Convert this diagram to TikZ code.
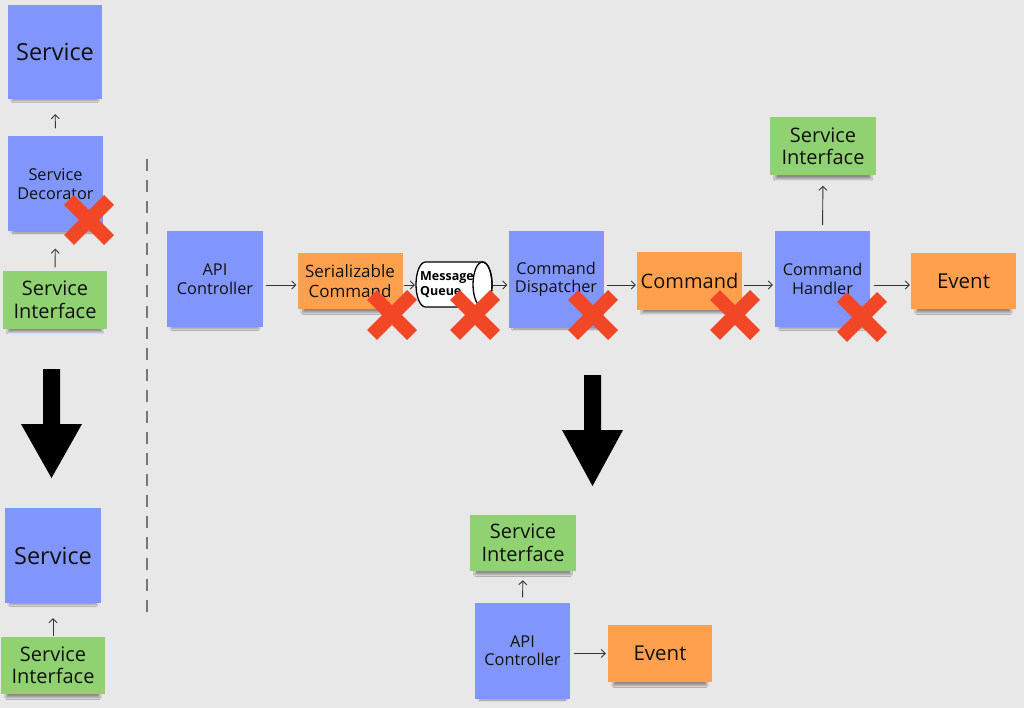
\documentclass[tikz,border=0pt]{standalone}
\usepackage{fontspec}
\setmainfont{Open Sans}
\usetikzlibrary{arrows.meta,shadows.blur}
\definecolor{bg}{HTML}{E8E8E8}
\definecolor{stblue}{HTML}{8096FC}
\definecolor{storange}{HTML}{FFA04E}
\definecolor{stgreen}{HTML}{90D272}
\definecolor{xred}{HTML}{F24726}
\definecolor{ink}{HTML}{111111}
\definecolor{dashgray}{HTML}{777777}
\tikzset{
  sticky/.style={inner sep=0pt, align=center, text=ink,
    blur shadow={shadow xshift=0pt, shadow yshift=-7pt, shadow scale=0.9, shadow blur steps=10, shadow opacity=40}},
  bluebox/.style={sticky, fill=stblue, minimum width=95pt, minimum height=95pt},
  orangebox/.style={sticky, fill=storange, minimum width=105pt, minimum height=56pt},
  greenbox/.style={sticky, fill=stgreen, minimum width=105pt, minimum height=57pt},
  fbig/.style={font=\fontsize{23.5}{27}\selectfont},
  fmid/.style={font=\fontsize{20}{22.5}\selectfont},
  fsmall/.style={font=\fontsize{16.3}{18.5}\selectfont},
  arr/.style={draw=ink!85, line width=0.9pt, -{Straight Barb[length=4pt,width=8pt]}},
  xmark/.pic={\draw[xred, line width=14pt] (-20,-20) -- (20,20) (-20,20) -- (20,-20);},
  bigarrow/.style={fill=black, draw=none},
}
\begin{document}
\begin{tikzpicture}[x=1pt,y=-1pt]
\fill[bg] (0,0) rectangle (1024,708);
\useasboundingbox (0,0) rectangle (1024,708);

% left column
\node[bluebox, fbig, minimum width=94pt, minimum height=94pt] (svc1) at (55,52) {Service};
\node[bluebox, fsmall] (dec) at (55.5,184) {Service\\Decorator};
\node[greenbox, fmid, minimum width=104pt] (si1) at (55,300) {Service\\Interface};
\node[bluebox, fbig, minimum width=96pt] (svc2) at (53,555.5) {Service};
\node[greenbox, fmid, minimum width=104pt] (si2) at (53,665.5) {Service\\Interface};

\draw[arr, shorten <=8pt, shorten >=15pt] (dec.north) -- (svc1.south);
\draw[arr, shorten <=4pt, shorten >=17pt] (si1.north) -- (dec.south);
\draw[arr, shorten <=1pt, shorten >=15pt] (si2.north) -- (svc2.south);

\coordinate (dtop) at (147,159);
\coordinate (dbot) at (147,616);
\draw[dashgray, line width=2.5pt, dash pattern=on 12pt off 9pt] (dtop) -- (dbot);

\fill[bigarrow] (43,369) -- (60,369) -- (60,424) -- (82,424) -- (51.5,478) -- (21,424) -- (43,424) -- cycle;

% main row
\coordinate (row) at (0,285);
\node[bluebox, fsmall, minimum width=96pt, minimum height=96pt] (api1) at (215,279) {API\\Controller};
\node[orangebox, font=\fontsize{17}{19.5}\selectfont] (ser) at (350,281) {Serializable\\Command};
% message queue cylinder
\node[minimum width=76pt, minimum height=45pt, inner sep=0pt] (mq) at (454,284.5) {};
\draw[black, line width=1.3pt, fill=white]
  (425.5,262) -- (482.5,262) arc[start angle=-90, end angle=90, x radius=9.5, y radius=22.5]
  -- (425.5,307) arc[start angle=90, end angle=270, x radius=9.5, y radius=22.5] -- cycle;
\draw[black, line width=1.3pt] (482.5,284.5) ellipse[x radius=9.5, y radius=22.5];
\node[font=\bfseries\fontsize{12.5}{14.5}\selectfont, align=left, text=black, anchor=west, inner sep=0pt] (mqt) at (420,284.5) {Message\\Queue};
\node[bluebox, fsmall, minimum height=96pt] (disp) at (556,279.5) {Command\\Dispatcher};
\node[orangebox, fmid, minimum height=57pt] (cmd) at (689.5,281) {Command};
\node[bluebox, fsmall, minimum height=96pt] (hand) at (822.5,279) {Command\\Handler};
\node[greenbox, fmid, minimum width=106pt, minimum height=58pt] (si3) at (823,146.5) {Service\\Interface};
\node[orangebox, font=\fontsize{20.5}{23}\selectfont] (evt1) at (963.5,281) {Event};

\draw[arr, shorten <=3pt, shorten >=1pt] (api1.east |- row) -- (ser.west |- row);
\draw[arr, shorten <=1pt, shorten >=1pt] (ser.east |- row) -- (mq.west |- row);
\draw[arr, shorten <=1pt, shorten >=1pt] (mq.east |- row) -- (disp.west |- row);
\draw[arr, shorten <=3pt, shorten >=1pt] (disp.east |- row) -- (cmd.west |- row);
\draw[arr, shorten <=2pt, shorten >=2pt] (cmd.east |- row) -- (hand.west |- row);
\draw[arr, shorten <=4pt, shorten >=1pt] (hand.east |- row) -- (evt1.west |- row);
\draw[arr, shorten <=6pt, shorten >=10pt] (hand.north) -- (si3.south);

\fill[bigarrow] (584,375) -- (601,375) -- (601,430) -- (623,430) -- (592.5,486) -- (562,430) -- (584,430) -- cycle;

% bottom result
\node[greenbox, fmid, minimum width=106pt, minimum height=56pt] (si4) at (523,543) {Service\\Interface};
\node[bluebox, fsmall, minimum height=96pt] (api2) at (522.5,650.5) {API\\Controller};
\node[orangebox, font=\fontsize{20.5}{23}\selectfont, minimum width=104pt, minimum height=57pt] (evt2) at (660,653.5) {Event};
\draw[arr, shorten <=5pt, shorten >=9pt] (api2.north) -- (si4.south);
\draw[arr, shorten <=4pt, shorten >=2pt] (api2.east |- evt2.center) -- (evt2.west);

% crosses
\pic at (89,220) {xmark};
\pic at (392,315) {xmark};
\pic at (475,315) {xmark};
\pic at (593,315) {xmark};
\pic at (735,315) {xmark};
\pic at (862,317) {xmark};
\end{tikzpicture}
\end{document}
